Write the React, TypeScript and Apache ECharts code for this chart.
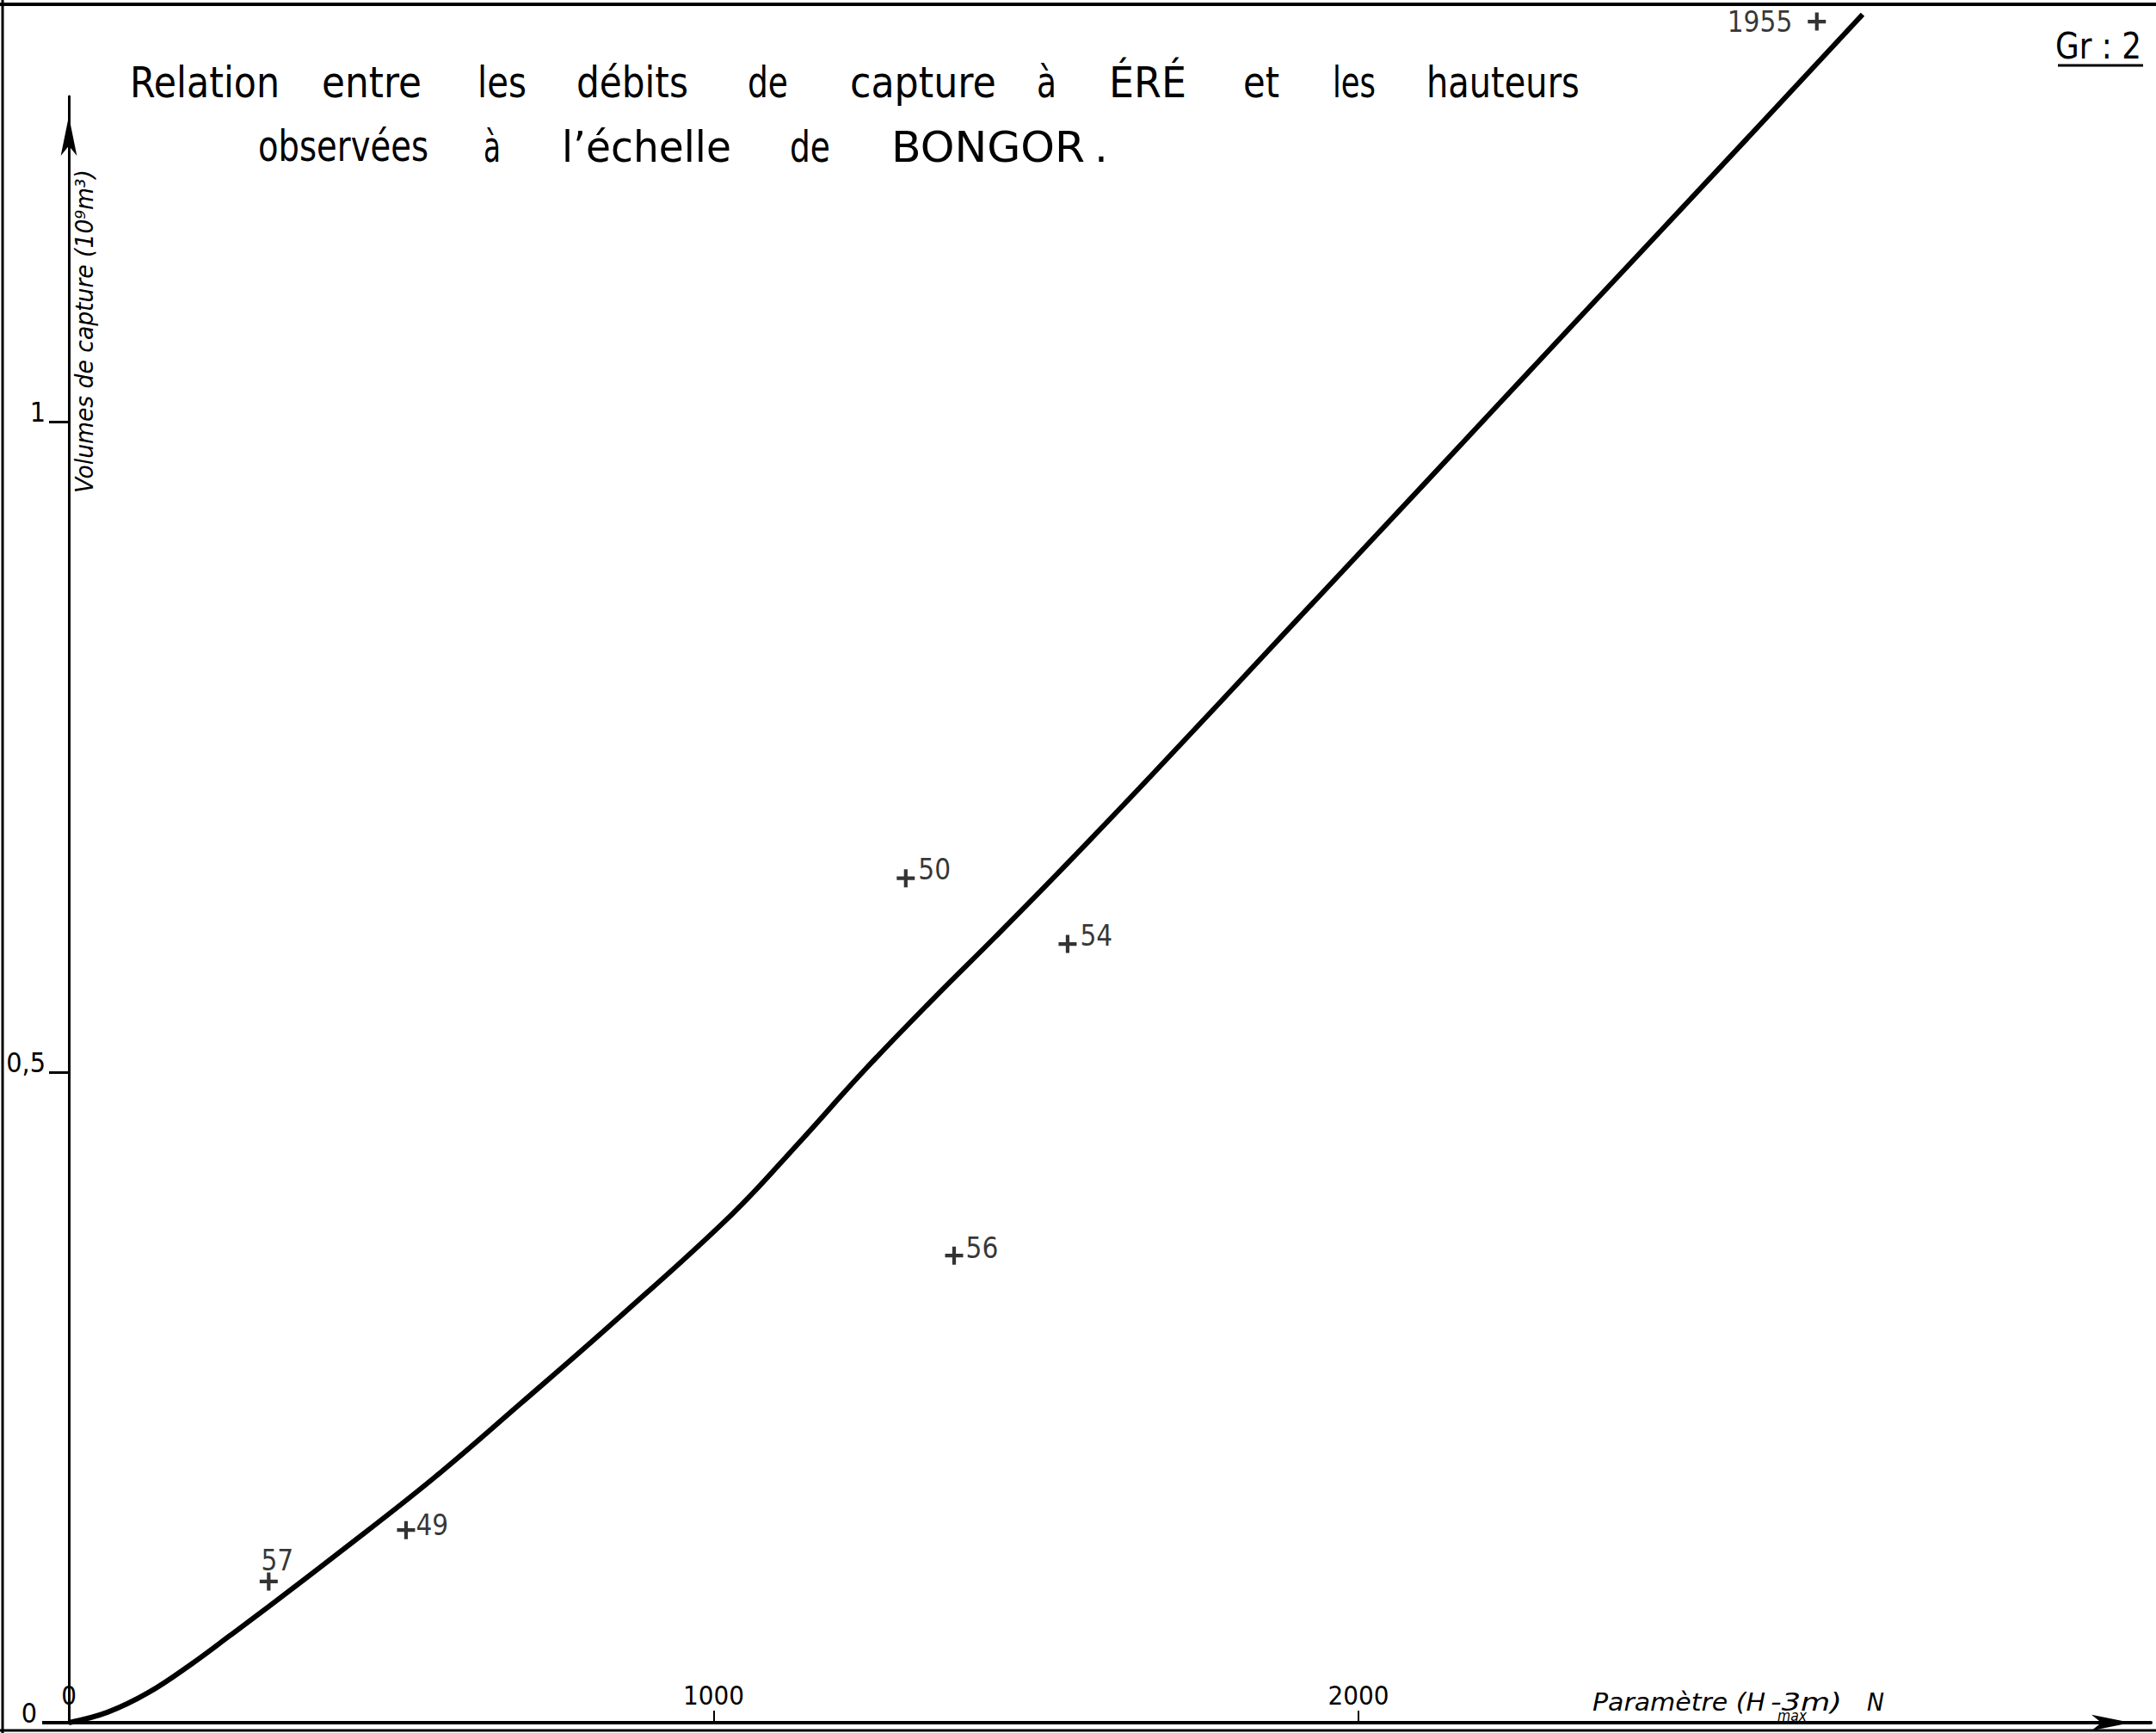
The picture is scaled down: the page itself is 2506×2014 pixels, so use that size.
import React, { useEffect, useRef } from "react";
import * as echarts from "echarts";

// ---- Data ----
// Relation curve: parameter (H max - 3m) N  vs  capture volume (10^9 m3)
const curveParam = [0, 60, 123, 190, 250, 320, 420, 566, 700, 850, 1029, 1131, 1233, 1340, 1437, 1540, 1677, 1896, 2100, 2343, 2598, 2782];
const curveVolume = [0, 0.008, 0.023, 0.045, 0.067, 0.093, 0.131, 0.188, 0.245, 0.31, 0.391, 0.445, 0.501, 0.556, 0.604, 0.656, 0.727, 0.843, 0.951, 1.08, 1.215, 1.313];

// Observed years
const obsYears = ["57", "49", "50", "54", "56", "1955"];
const obsParam = [310, 523, 1298, 1549, 1373, 2711];
const obsVolume = [0.1085, 0.148, 0.649, 0.5985, 0.359, 1.3075];

// Axis ticks / labels
const xTickValues = [1000, 2000];
const xLabelValues = [0, 1000, 2000];
const yTickValues = [0.5, 1];
const yLabelValues = [0, 0.5, 1];

// Texts
const titleLine1 = ["Relation", "entre", "les", "débits", "de", "capture", "à", "ÉRÉ", "et", "les", "hauteurs"];
const titleLine2 = ["observées", "à", "l’échelle", "de", "BONGOR", "."];
const yTitle = "Volumes de capture (10⁹m³)";
const xTitleParts = ["Paramètre (H", "-3m)", "N"];
const xTitleSub = "max";
const plateLabel = "Gr : 2";

// ---- Layout (pixel spans of the lettering) ----
const line1Spans = [[151, 325], [374, 490], [555, 612], [670, 800], [869, 916], [988, 1158], [1205, 1228], [1289, 1379], [1445, 1487], [1549, 1599], [1658, 1836]];
const line2Spans = [[300, 498], [562, 582], [653, 850], [918, 965], [1036, 1261], [1272, 0]];
const xTitleSpans = [[1851, 2052], [2058, 2141], [2170, 2190]];

const labelLayout: Record<string, any> = {
  "57": { position: "top", distance: 2, offset: [10, 0] },
  "49": { position: "right", distance: 1, offset: [0, -6] },
  "50": { position: "right", distance: 4, offset: [0, -10] },
  "54": { position: "right", distance: 4, offset: [0, -10] },
  "56": { position: "right", distance: 3, offset: [0, -9] },
  "1955": { position: "left", distance: 18, offset: [0, 0] },
};

const COND = "'DejaVu Sans Condensed', 'DejaVu Sans', sans-serif";
const SANS = "'DejaVu Sans', sans-serif";
const CROSS = "path://M-10,-2H-2V-10H2V-2H10V2H2V10H-2V2H-10Z";

export default function App() {
  const ref = useRef<HTMLDivElement>(null);

  useEffect(() => {
    if (!ref.current) return;
    const chart = echarts.init(ref.current, null, { renderer: "svg" });
    const canvas = document.createElement("canvas");
    const ctx = canvas.getContext("2d")!;
    const measure = (t: string, font: string) => {
      ctx.font = font;
      return ctx.measureText(t).width || 1;
    };

    const fitText = (
      text: string, x0: number, x1: number, yMid: number, size: number,
      family: string, fontStyle = "normal", fixed?: number
    ) => {
      const w = measure(text, `${fontStyle} ${size}px ${family}`);
      const s = fixed !== undefined ? fixed : (x1 - x0) / w;
      return {
        type: "text",
        x: x0,
        y: yMid,
        scaleX: s,
        silent: true,
        style: {
          text, fontSize: size, fontFamily: family, fontStyle, fill: "#000",
          align: "left", verticalAlign: "middle", textAlign: "left", textVerticalAlign: "middle",
        },
      };
    };

    const graphics: any[] = [];
    // frame
    graphics.push({ type: "line", silent: true, shape: { x1: 0, y1: 5, x2: 2506, y2: 5 }, style: { stroke: "#000", lineWidth: 4 } });
    graphics.push({ type: "line", silent: true, shape: { x1: 3, y1: 0, x2: 3, y2: 2014 }, style: { stroke: "#000", lineWidth: 3 } });
    graphics.push({ type: "line", silent: true, shape: { x1: 0, y1: 2011, x2: 2506, y2: 2011 }, style: { stroke: "#000", lineWidth: 3 } });
    // x axis line extends a little left of origin
    graphics.push({ type: "line", silent: true, shape: { x1: 49, y1: 2002, x2: 82, y2: 2002 }, style: { stroke: "#000", lineWidth: 4 } });

    // title
    const tSize = 50;
    titleLine1.forEach((w, i) => {
      const [a, b] = line1Spans[i];
      graphics.push(fitText(w, a, b, 113 - 0.346 * tSize, tSize, SANS));
    });
    titleLine2.forEach((w, i) => {
      const [a, b] = line2Spans[i];
      graphics.push(fitText(w, a, b, 188 - 0.346 * tSize, tSize, SANS, "normal", b === 0 ? 1 : undefined));
    });

    // plate label
    graphics.push(fitText(plateLabel, 2389, 2489, 68 - 0.346 * 42, 42, SANS));
    graphics.push({ type: "line", silent: true, shape: { x1: 2392, y1: 76, x2: 2491, y2: 76 }, style: { stroke: "#000", lineWidth: 3 } });

    // y title (rotated)
    {
      const size = 28;
      const w = measure(yTitle, `italic ${size}px ${COND}`);
      graphics.push({
        type: "text", x: 98, y: 385, rotation: Math.PI / 2, scaleX: 376 / w, silent: true,
        style: {
          text: yTitle, fontSize: size, fontFamily: COND, fontStyle: "italic", fill: "#000",
          align: "center", verticalAlign: "middle", textAlign: "center", textVerticalAlign: "middle",
        },
      });
    }

    // x title
    xTitleParts.forEach((p, i) => {
      const [a, b] = xTitleSpans[i];
      graphics.push(fitText(p, a, b, 1988 - 0.346 * 28, 28, COND, "italic"));
    });
    graphics.push(fitText(xTitleSub, 2066, 2100, 2000 - 0.346 * 17, 17, COND, "italic"));

    const scatterData = obsYears.map((yr, i) => ({
      value: [obsParam[i], obsVolume[i]],
      name: yr,
      label: { show: true, formatter: yr, ...labelLayout[yr] },
    }));

    const option: any = {
      animation: false,
      backgroundColor: "#ffffff",
      grid: { left: 80, right: 6, top: 112, bottom: 12, containLabel: false, outerBoundsMode: "none" },
      xAxis: {
        type: "value",
        min: 0,
        max: 3229,
        axisLine: {
          show: true, onZero: true,
          lineStyle: { color: "#000", width: 4 },
          symbol: ["none", "arrow"], symbolSize: [14, 46], symbolOffset: [0, -23],
        },
        axisTick: { show: true, inside: true, length: 14, lineStyle: { color: "#000", width: 2 }, customValues: xTickValues },
        axisLabel: {
          show: true, inside: true, margin: 20, customValues: xLabelValues,
          color: "#000", fontSize: 31, fontFamily: COND, lineHeight: 24,
          formatter: (v: number) => String(v),
        },
        splitLine: { show: false },
      },
      yAxis: {
        type: "value",
        min: 0,
        max: 1.25,
        axisLine: {
          show: true, onZero: true,
          lineStyle: { color: "#000", width: 3 },
          symbol: ["none", "arrow"], symbolSize: [14, 46], symbolOffset: [0, -23],
        },
        axisTick: { show: true, inside: false, length: 23, lineStyle: { color: "#000", width: 3 }, customValues: yTickValues },
        axisLabel: {
          show: true, margin: 27, customValues: yLabelValues,
          color: "#000", fontSize: 32, fontFamily: COND, lineHeight: 22, verticalAlign: "bottom",
          formatter: (v: number) => (v === 0 ? "{z|0}" : String(v).replace(".", ",")),
          rich: { z: { fontSize: 32, fontFamily: COND, color: "#000", lineHeight: 22, padding: [0, 10, 0, 0] } },
        },
        splitLine: { show: false },
      },
      graphic: { elements: graphics },
      series: [
        {
          type: "line",
          data: curveParam.map((x, i) => [x, curveVolume[i]]),
          showSymbol: false,
          smooth: 0.4,
          clip: false,
          lineStyle: { color: "#000", width: 6 },
          z: 2,
        },
        {
          type: "scatter",
          data: scatterData,
          symbol: CROSS,
          symbolSize: 21,
          clip: false,
          itemStyle: { color: "#000" },
          label: { color: "#000", fontSize: 33, fontFamily: COND, lineHeight: 24 },
          z: 3,
        },
      ],
    };
    chart.setOption(option);
    return () => chart.dispose();
  }, []);

  return (
    <div
      ref={ref}
      style={{ position: "absolute", left: 0, top: 0, width: 2506, height: 2014, background: "#fff" }}
    />
  );
}
